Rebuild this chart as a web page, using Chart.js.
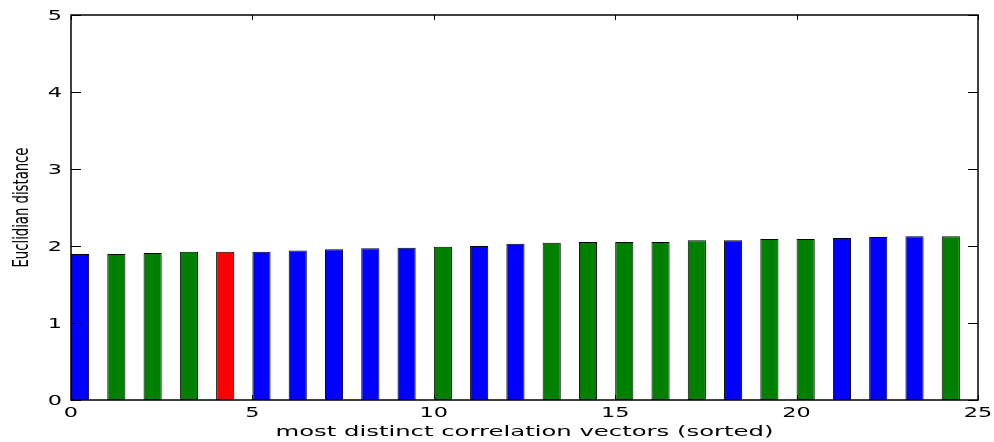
<!DOCTYPE html>
<html>
<head>
<meta charset="utf-8">
<script src="https://cdn.jsdelivr.net/npm/chart.js@4/dist/chart.umd.min.js"></script>
<style>
    html, body { margin: 0; padding: 0; background: #ffffff; }
    #contenedor { width: 994px; height: 442px; }
</style>
</head>
<body>
<div id="contenedor"><canvas id="grafico"></canvas></div>
<script>
// Datos del gráfico
const indices = [0, 1, 2, 3, 4, 5, 6, 7, 8, 9, 10, 11, 12, 13, 14, 15, 16, 17, 18, 19, 20, 21, 22, 23, 24];
const distancias = [1.895, 1.895, 1.91, 1.925, 1.925, 1.925, 1.94, 1.957, 1.97, 1.978, 1.99, 2.0,
                    2.03, 2.043, 2.052, 2.052, 2.052, 2.074, 2.074, 2.09, 2.09, 2.104, 2.117, 2.126, 2.126];
const grupos = ['b', 'g', 'g', 'g', 'r', 'b', 'b', 'b', 'b', 'b', 'g', 'b',
                'b', 'g', 'g', 'g', 'g', 'g', 'b', 'g', 'g', 'b', 'b', 'b', 'g'];
const ticksX = [0, 5, 10, 15, 20, 25];
const ticksY = [0, 1, 2, 3, 4, 5];
const tituloX = 'most distinct correlation vectors (sorted)';
const tituloY = 'Euclidian distance';

// Colores estilo matplotlib clásico
const coloresGrupo = { b: '#0000ff', g: '#008000', r: '#ff0000' };
const anchoBarra = 0.5;
const fuente = '"DejaVu Sans", sans-serif';

// Texto estirado horizontalmente (la imagen original está deformada)
function textoEstirado(ctx, texto, x, y, escalaX, align, baseline) {
    ctx.save();
    ctx.translate(x, y);
    ctx.scale(escalaX, 1);
    ctx.textAlign = align;
    ctx.textBaseline = baseline;
    ctx.fillText(texto, 0, 0);
    ctx.restore();
}

// Marco, marcas hacia adentro y textos
const marcoEjes = {
    id: 'marcoEjes',
    afterDatasetsDraw(chart) {
        const ctx = chart.ctx;
        const area = chart.chartArea;
        const sx = chart.scales.x;
        const sy = chart.scales.y;

        ctx.save();
        ctx.strokeStyle = '#000000';
        ctx.lineWidth = 1;

        // marcas eje Y (izquierda y derecha)
        ticksY.forEach(v => {
            const py = Math.round(sy.getPixelForValue(v)) + 0.5;
            ctx.beginPath();
            ctx.moveTo(area.left, py);
            ctx.lineTo(area.left + 10, py);
            ctx.moveTo(area.right, py);
            ctx.lineTo(area.right - 10, py);
            ctx.stroke();
        });
        // marcas eje X (arriba y abajo)
        ticksX.forEach(v => {
            const px = Math.round(sx.getPixelForValue(v)) + 0.5;
            ctx.beginPath();
            ctx.moveTo(px, area.top);
            ctx.lineTo(px, area.top + 5);
            ctx.moveTo(px, area.bottom);
            ctx.lineTo(px, area.bottom - 5);
            ctx.stroke();
        });

        // marco
        ctx.lineWidth = 1.5;
        ctx.strokeRect(area.left, area.top, area.right - area.left, area.bottom - area.top);

        // etiquetas
        ctx.fillStyle = '#000000';
        ctx.font = '14px ' + fuente;
        ticksY.forEach(v => {
            textoEstirado(ctx, String(v), 62, sy.getPixelForValue(v) + 1, 1.6, 'right', 'middle');
        });
        ticksX.forEach(v => {
            textoEstirado(ctx, String(v), sx.getPixelForValue(v), 417, 1.6, 'center', 'alphabetic');
        });

        // título eje X
        const anchoX = ctx.measureText(tituloX).width;
        textoEstirado(ctx, tituloX, (area.left + area.right) / 2, 436, 498 / anchoX, 'center', 'alphabetic');

        // título eje Y (rotado)
        const anchoY = ctx.measureText(tituloY).width;
        ctx.save();
        ctx.translate(28, (area.top + area.bottom) / 2);
        ctx.rotate(-Math.PI / 2);
        ctx.scale(120 / anchoY, 1.5);
        ctx.textAlign = 'center';
        ctx.textBaseline = 'alphabetic';
        ctx.fillText(tituloY, 0, 0);
        ctx.restore();

        ctx.restore();
    }
};

const ctxGrafico = document.getElementById('grafico').getContext('2d');
new Chart(ctxGrafico, {
    type: 'bar',
    data: {
        datasets: [{
            label: tituloY,
            data: indices.map((i, k) => ({ x: i + anchoBarra / 2, y: distancias[k] })),
            backgroundColor: grupos.map(g => coloresGrupo[g]),
            borderColor: '#000000',
            borderWidth: 1,
            borderSkipped: false,
            categoryPercentage: 1,
            barPercentage: anchoBarra
        }]
    },
    options: {
        responsive: true,
        maintainAspectRatio: false,
        animation: false,
        layout: {
            padding: { left: 71, right: 16, top: 15, bottom: 42 }
        },
        plugins: {
            legend: { display: false },
            tooltip: { enabled: false }
        },
        scales: {
            x: {
                type: 'linear',
                display: false,
                min: 0,
                max: 25,
                offset: false
            },
            y: {
                display: false,
                min: 0,
                max: 5
            }
        }
    },
    plugins: [marcoEjes]
});
</script>
</body>
</html>
